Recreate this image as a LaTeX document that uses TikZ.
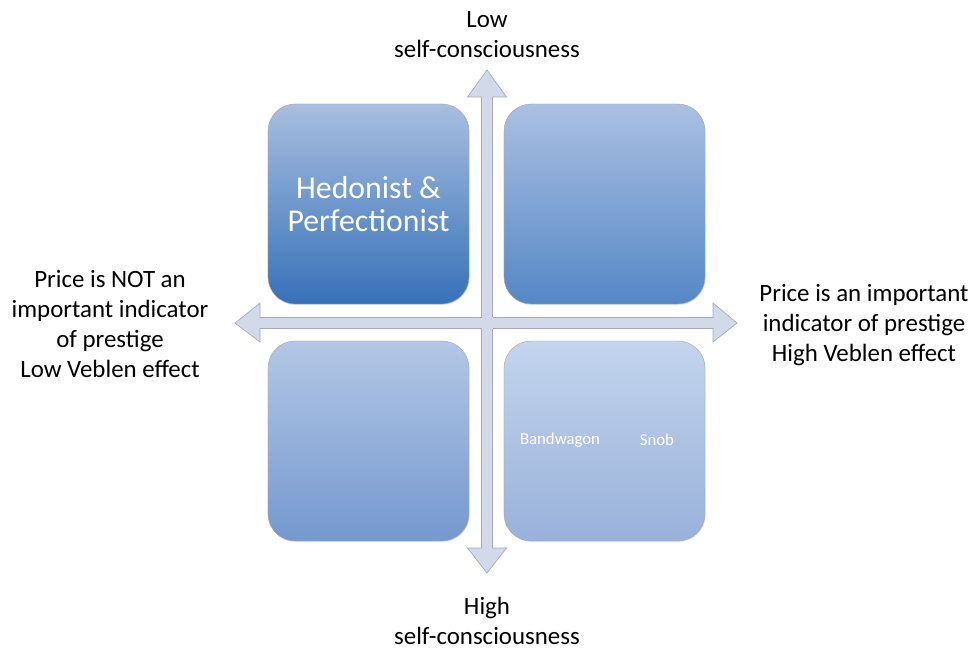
\documentclass[tikz,border=0pt]{standalone}
\usepackage{fontspec}
\setmainfont{Carlito}
\usetikzlibrary{shadows}
\definecolor{axisfill}{HTML}{D2DAEA}
\definecolor{axisline}{HTML}{A3ABBC}
\tikzset{
	quad/.style={rounded corners=0.68cm, minimum width=5.025cm, minimum height=5cm,
		draw=black!35, line width=0.3pt, text=white, align=center,
		drop shadow={opacity=0.18, shadow xshift=0.5pt, shadow yshift=-0.8pt}},
	axis/.style={fill=axisfill, draw=axisline, line width=0.5pt},
	lbl/.style={align=center, inner sep=0.5pt, font=\fontsize{17.7}{21.3}\selectfont}
}
\begin{document}
\begin{tikzpicture}[x=0.025cm, y=-0.025cm, >=stealth]
	\useasboundingbox (0,0) rectangle (973,649);
	\coordinate (C) at (487,323);

	% les axes
	\draw[axis] (481.5,97) -- (467.5,97) -- (487,70) -- (506.5,97) -- (492.5,97)
		-- (492.5,548) -- (506.5,548) -- (487,573) -- (467.5,548) -- (481.5,548) -- cycle;
	\draw[axis] (260,317.5) -- (260,303) -- (235,323) -- (260,342) -- (260,328.5)
		-- (713,328.5) -- (713,342) -- (737,323) -- (713,303) -- (713,317.5) -- cycle;
	\fill[axisfill] (481.5,317.5) rectangle (492.5,328.5);

	% les quadrants
	\node (hedo) [quad, top color={rgb,255:red,168;green,190;blue,224}, bottom color={rgb,255:red,54;green,113;blue,184},
		font=\fontsize{22.6}{23.5}\selectfont] at (368.5,204) {Hedonist \&\\Perfectionist};
	\node (topright) [quad, top color={rgb,255:red,170;green,192;blue,226}, bottom color={rgb,255:red,85;green,135;blue,198}] at (604.5,204) {};
	\node (botleft) [quad, top color={rgb,255:red,179;green,199;blue,230}, bottom color={rgb,255:red,116;green,152;blue,206}] at (368.5,441) {};
	\node (botright) [quad, top color={rgb,255:red,195;green,213;blue,237}, bottom color={rgb,255:red,153;green,177;blue,218}] at (604.5,441) {};
	\node (band) [text=white, font=\fontsize{11.9}{13}\selectfont] at (560,440) {Bandwagon};
	\node (snob) [text=white, font=\fontsize{11.9}{13}\selectfont] at (657,440) {Snob};

	% les etiquettes
	\node (low) [lbl] at (487,35) {Low\\self-consciousness};
	\node (high) [lbl] at (487,621) {High\\self-consciousness};
	\node (notimp) [lbl] at (110,324) {Price is NOT an\\important indicator\\of prestige\\Low Veblen effect};
	\node (imp) [lbl] at (864,325) {Price is an important\\indicator of prestige\\High Veblen effect};

\end{tikzpicture}
\end{document}
